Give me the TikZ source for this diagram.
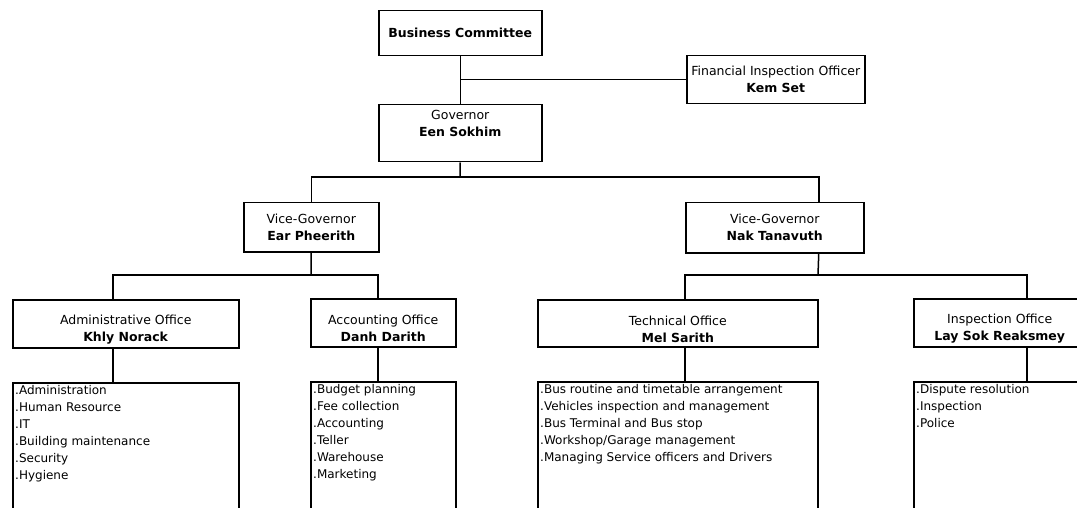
\documentclass[tikz,border=0pt]{standalone}
\usepackage{fontspec}
\setmainfont{DejaVu Sans}
\usetikzlibrary{positioning}
\newcommand{\orgfont}{\fontsize{12.5}{17}\selectfont}
\newcommand{\itemfont}{\fontsize{12}{17}\selectfont}
\tikzset{
  office/.style={draw, line width=1.5pt, anchor=north west, align=center, font=\orgfont, inner sep=0pt},
  lowtext/.style={text height=38pt},
  hightext/.style={text depth=19pt},
  duties/.style={draw, line width=1.5pt, anchor=north west, inner sep=0pt},
  dutytext/.style={anchor=north west, align=left, font=\itemfont, inner sep=0pt},
  link/.style={line width=1.5pt}
}
\begin{document}
\begin{tikzpicture}[x=1pt,y=-1pt]
\useasboundingbox (0,0) rectangle (1077,508);
\clip (0,0) rectangle (1077,508);
%top of the tree
\node[office, minimum width=163pt, minimum height=45pt] (bc) at (378,10) {\textbf{Business Committee}};
\node[office, hightext, minimum width=163pt, minimum height=57pt] (gov) at (378,104) {Governor\\\textbf{Een Sokhim}};
\node[office, minimum width=178pt, minimum height=48pt] (fin) at (686,55) {Financial Inspection Officer\\\textbf{Kem Set}};
\draw[link] (bc) -- (gov);
\draw[link] (fin.west) -- (fin.west -| bc.south);
%vice-governors
\node[office, minimum width=135pt, minimum height=49pt] (vg1) at (243,202) {Vice-Governor\\\textbf{Ear Pheerith}};
\node[office, minimum width=178pt, minimum height=50pt] (vg2) at (685,202) {Vice-Governor\\\textbf{Nak Tanavuth}};
\coordinate (gbus) at (460,177);
\draw[link] (gov.south) -- (gbus);
\draw[link] (vg1.north) |- (gbus) -| ([xshift=44pt]vg2.north);
%offices
\node[office, lowtext, minimum width=226pt, minimum height=48pt] (adm) at (12,299) {Administrative Office\\\textbf{Khly Norack}};
\node[office, lowtext, minimum width=145pt, minimum height=48pt] (acc) at (310,298) {Accounting Office\\\textbf{Danh Darith}};
\node[office, lowtext, minimum width=280pt, minimum height=47pt] (tec) at (537,299) {Technical Office\\\textbf{Mel Sarith}};
\node[office, lowtext, minimum width=172pt, minimum height=48pt] (ins) at (913,298) {Inspection Office\\\textbf{Lay Sok Reaksmey}};
\coordinate (lbus) at (311,275);
\coordinate (rbus) at (818,275);
\draw[link] (vg1.south) -- (lbus);
\draw[link] ([xshift=-13pt]adm.north) |- (lbus) -| ([xshift=-5.5pt]acc.north);
\draw[link] ([xshift=44pt]vg2.south) -- (rbus);
\draw[link] ([xshift=7pt]tec.north) |- (rbus) -| ([xshift=27pt]ins.north);
%duty lists
\node[duties, minimum width=226pt, minimum height=140pt] (admlist) at (12,382) {};
\node[duties, minimum width=145pt, minimum height=140pt] (acclist) at (310,381) {};
\node[duties, minimum width=280pt, minimum height=140pt] (teclist) at (537,381) {};
\node[duties, minimum width=172pt, minimum height=140pt] (inslist) at (913,381) {};
\draw[link] ([xshift=-13pt]adm.south) -- ([xshift=-13pt]admlist.north);
\draw[link] ([xshift=-5.5pt]acc.south) -- ([xshift=-5.5pt]acclist.north);
\draw[link] ([xshift=7pt]tec.south) -- ([xshift=7pt]teclist.north);
\draw[link] ([xshift=27pt]ins.south) -- ([xshift=27pt]inslist.north);
\node[dutytext] (admtext) at ([xshift=3pt,yshift=-3pt]admlist.north west) {.Administration\\.Human Resource\\.IT\\.Building maintenance\\.Security\\.Hygiene};
\node[dutytext] (acctext) at ([xshift=3pt,yshift=-3pt]acclist.north west) {.Budget planning\\.Fee collection\\.Accounting\\.Teller\\.Warehouse\\.Marketing};
\node[dutytext] (tectext) at ([xshift=3pt,yshift=-3pt]teclist.north west) {.Bus routine and timetable arrangement\\.Vehicles inspection and management\\.Bus Terminal and Bus stop\\.Workshop/Garage management\\.Managing Service officers and Drivers};
\node[dutytext] (instext) at ([xshift=3pt,yshift=-3pt]inslist.north west) {.Dispute resolution\\.Inspection\\.Police};
\end{tikzpicture}
\end{document}
